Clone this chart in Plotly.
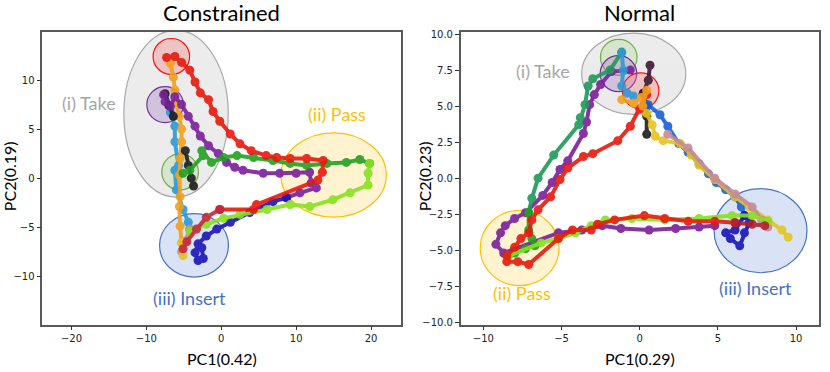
import plotly.graph_objects as go

# ---------------- Constrained (left panel) ----------------
con_red_x = [-7.3, -6.2, -5.3, -4.2, -3.5, -2.8, -1.7, -1.1, -0.2, 1.2, 2.5, 4.0, 6.0, 7.4, 9.2, 11.4, 13.6, 13.5, 12.9, 4.7, 4.3, -0.2]
con_red_y = [12.3, 12.4, 11.8, 11.0, 9.8, 8.7, 8.0, 6.8, 5.8, 4.5, 3.5, 2.8, 2.3, 2.1, 2.0, 2.0, 1.8, 0.6, -0.2, -2.7, -3.2, -3.2]
con_crimson_x = [-0.2, -2.0, -3.3, -4.6, -5.1]
con_crimson_y = [-3.2, -4.0, -5.2, -6.5, -7.2]

con_purple_x = [-7.7, -7.5, -6.8, -6.2, -5.3, -4.4, -3.5, -2.8, -1.7, -0.4, 0.7, 1.8, 2.9, 5.6, 7.8, 10.0, 11.8, 12.0, 12.7, 10.5, 8.7]
con_purple_y = [8.5, 7.8, 7.3, 8.3, 7.5, 6.3, 5.3, 4.3, 3.3, 2.5, 1.6, 1.1, 0.8, 0.5, 0.5, 0.5, 0.6, -0.5, -1.0, -1.5, -2.0]
con_navy_x = [8.7, 6.9, 3.8, 1.2, -0.6, -2.0, -3.1, -3.5, -3.1, -2.4, -2.6]
con_navy_y = [-2.0, -2.4, -3.5, -4.5, -5.2, -5.9, -6.7, -7.6, -8.4, -8.2, -7.1]

con_green_x = [-5.1, -4.2, -2.4, -2.6, -1.3, 0.3, 2.1, 4.3, 6.9, 9.2, 11.4, 14.1, 16.7, 18.5, 19.8]
con_green_y = [0.5, 0.8, 2.3, 2.8, 1.6, 2.1, 2.3, 2.1, 1.8, 1.5, 1.3, 1.5, 1.6, 1.9, 1.5]
con_lime_x = [19.8, 19.6, 19.6, 17.2, 14.9, 11.8, 9.2, 6.1, 2.5, 0.3, -2.0, -4.2]
con_lime_y = [1.5, 0.5, -0.7, -1.5, -2.2, -2.9, -2.7, -3.2, -3.7, -4.1, -4.7, -5.4]

con_orange_x = [-6.8, -6.4, -6.2, -6.0, -5.6, -5.3, -5.3, -5.5, -5.6, -5.5, -5.6, -5.5, -5.3]
con_orange_y = [11.7, 10.3, 9.0, 7.7, 6.3, 5.0, 3.7, 2.0, 0.3, -1.9, -2.9, -4.9, -6.6]
con_yellow_x = [-5.3, -5.1]
con_yellow_y = [-6.6, -7.9]

con_sky_x = [-6.8, -6.2, -6.2, -5.7, -6.2, -6.0, -5.1, -4.4, -4.2]
con_sky_y = [6.7, 5.3, 3.7, 1.3, 0.8, -1.2, -3.2, -4.5, -5.2]
con_mauve_x = [-4.2, -4.8, -5.3]
con_mauve_y = [-5.2, -6.4, -7.5]

con_black_x = [-7.5, -7.0, -6.4]
con_black_y = [8.6, 7.4, 6.3]
con_black2_x = [-4.8, -4.4, -4.0, -3.7]
con_black2_y = [2.8, 1.3, 0.0, -0.8]

# ---------------- Normal (right panel) ----------------
nor_red_x = [0.45, 0.0, -0.6, -1.4, -3.0, -3.6, -4.6, -5.1, -5.7, -6.5, -6.9, -7.1, -7.6, -8.0, -8.5, -8.5, -7.8, -7.1,
             -5.2, -4.3, -3.1, -2.7, -1.6, 0.3, 1.6, 3.1, 4.8, 6.1]
nor_red_y = [5.8, 4.8, 3.6, 2.6, 1.7, 1.5, 0.7, -0.1, -1.3, -2.2, -2.9, -3.8, -4.2, -4.8, -5.4, -5.8, -5.8, -6.0,
             -4.2, -3.6, -3.6, -3.2, -2.9, -2.6, -2.8, -3.0, -3.0, -3.1]
nor_maroon_x = [6.1, 7.2, 8.0]
nor_maroon_y = [-3.1, -3.2, -3.3]

nor_teal_x = [-1.15, -1.9, -3.0, -3.3, -3.5, -3.8, -3.9, -5.5, -6.5, -6.9, -7.1]
nor_teal_y = [8.75, 7.5, 6.9, 6.4, 5.1, 4.2, 3.7, 1.6, 0.0, -1.4, -2.4]
nor_green_x = [-7.1, -7.1, -6.9, -6.7, -7.3, -8.0, -8.4]
nor_green_y = [-2.4, -3.6, -4.2, -4.7, -4.9, -5.2, -5.4]
nor_lime_x = [-8.4, -6.3, -5.2, -4.1, -3.1, -2.2, -0.5, 1.6, 3.8, 5.9, 7.2, 8.2]
nor_lime_y = [-5.4, -4.5, -4.2, -3.8, -3.3, -2.9, -2.8, -2.9, -2.8, -2.6, -2.6, -3.0]

nor_purple_x = [-0.6, -1.8, -2.5, -2.9, -3.2, -3.4, -3.6, -4.6, -5.1, -5.6, -6.2, -7.3, -8.0, -8.6, -8.9, -9.2, -8.7,
                -5.2, -3.7, -2.4, -1.2, 0.6, 2.3, 3.8, 4.8]
nor_purple_y = [7.5, 7.4, 6.5, 5.8, 5.1, 3.9, 3.1, 1.2, 0.6, -0.3, -1.2, -2.4, -2.8, -3.3, -3.8, -4.6, -5.2,
                -3.8, -3.6, -3.3, -3.5, -3.6, -3.5, -3.4, -3.3]

nor_blue_x = [0.55, 1.3, 1.8, 2.5, 3.1, 3.8, 4.4, 4.9, 5.5, 6.1, 6.5, 6.7]
nor_blue_y = [5.1, 4.4, 3.6, 2.4, 1.8, 1.0, 0.3, -0.3, -0.8, -1.3, -2.0, -2.6]
nor_navy_x = [6.7, 6.1, 5.5, 5.8, 6.4, 6.7, 7.0]
nor_navy_y = [-2.6, -3.6, -3.8, -4.2, -4.7, -3.8, -3.1]

nor_orange_x = [-1.15, -0.4, 0.1, 0.45, 0.2]
nor_orange_y = [5.45, 5.2, 5.6, 6.1, 5.0]
nor_yellow_x = [0.45, 0.8, 1.0, 1.5, 2.6, 3.3, 3.8, 4.8, 6.1, 7.0, 8.2, 9.1, 9.5]
nor_yellow_y = [4.5, 3.7, 2.9, 2.6, 2.4, 1.6, 0.9, -0.1, -1.3, -2.0, -2.9, -3.6, -4.1]
nor_mauve_x = [1.8, 3.1, 4.8, 6.1, 7.2, 7.8, 8.2]
nor_mauve_y = [3.05, 2.1, 0.0, -1.1, -2.0, -2.9, -3.4]

nor_sky_x = [-1.15, -1.05, -1.15, -0.8, -0.4]
nor_sky_y = [8.7, 7.5, 6.4, 5.9, 5.7]
nor_plum_x = [0.66, 0.55, 0.23]
nor_plum_y = [7.84, 6.8, 5.9]
nor_black_x = [0.23, 0.45, 0.45, 0.45]
nor_black_y = [5.9, 5.0, 4.3, 3.05]

C = {
    "red": "#e8180c", "crimson": "#c4283c", "purple": "#7a1f9c", "navy": "#1a14b8",
    "green": "#22a022", "lime": "#86e21e", "orange": "#f2a01c", "yellow": "#e6c420",
    "sky": "#2a9ad8", "mauve": "#c48a9c", "black": "#1c1c1c", "teal": "#1e9a5a",
    "blue": "#1a62d8", "maroon": "#b0202e", "plum": "#3e1a36",
}

left = [
    (con_sky_x, con_sky_y, "sky"), (con_mauve_x, con_mauve_y, "mauve"),
    (con_orange_x, con_orange_y, "orange"), (con_yellow_x, con_yellow_y, "yellow"),
    (con_black_x, con_black_y, "black"), (con_black2_x, con_black2_y, "black"),
    (con_purple_x, con_purple_y, "purple"), (con_navy_x, con_navy_y, "navy"),
    (con_green_x, con_green_y, "green"), (con_lime_x, con_lime_y, "lime"),
    (con_red_x, con_red_y, "red"), (con_crimson_x, con_crimson_y, "crimson"),
]
right = [
    (nor_black_x, nor_black_y, "black"), (nor_plum_x, nor_plum_y, "plum"),
    (nor_blue_x, nor_blue_y, "blue"), (nor_navy_x, nor_navy_y, "navy"),
    (nor_yellow_x, nor_yellow_y, "yellow"), (nor_mauve_x, nor_mauve_y, "mauve"),
    (nor_purple_x, nor_purple_y, "purple"),
    (nor_teal_x, nor_teal_y, "teal"), (nor_green_x, nor_green_y, "green"), (nor_lime_x, nor_lime_y, "lime"),
    (nor_sky_x, nor_sky_y, "sky"),
    (nor_red_x, nor_red_y, "red"), (nor_maroon_x, nor_maroon_y, "maroon"),
    (nor_orange_x, nor_orange_y, "orange"),
]

fig = go.Figure()
for traces, xa, ya in [(left, "x", "y"), (right, "x2", "y2")]:
    for xs, ys, c in traces:
        fig.add_trace(go.Scatter(
            x=xs, y=ys, mode="lines+markers", xaxis=xa, yaxis=ya,
            line=dict(color=C[c], width=4), marker=dict(color=C[c], size=9),
            opacity=0.9, showlegend=False, hoverinfo="skip"))


def ellipse(xref, yref, cx, cy, rx, ry, fill, line):
    return dict(type="circle", xref=xref, yref=yref, x0=cx - rx, x1=cx + rx, y0=cy - ry, y1=cy + ry,
                fillcolor=fill, line=dict(color=line, width=1.2), layer="below")


gray_f, gray_l = "rgba(200,200,200,0.35)", "#a8a8a8"
pass_f, pass_l = "rgba(255,220,120,0.35)", "#ffbf00"
ins_f, ins_l = "rgba(160,185,230,0.4)", "#4472c4"
red_f, red_l = "rgba(240,120,120,0.35)", "#ff1010"
pur_f, pur_l = "rgba(160,120,190,0.35)", "#7030a0"
grn_f, grn_l = "rgba(190,220,170,0.45)", "#70ad47"

shapes = [
    ellipse("x", "y", -6.04, 6.57, 6.97, 8.5, gray_f, gray_l),
    ellipse("x", "y", 15.0, 0.32, 7.04, 4.3, pass_f, pass_l),
    ellipse("x", "y", -3.64, -6.85, 4.6, 3.24, ins_f, ins_l),
    ellipse("x", "y", -6.67, 12.4, 2.44, 1.84, red_f, red_l),
    ellipse("x", "y", -7.5, 7.5, 2.44, 1.84, pur_f, pur_l),
    ellipse("x", "y", -5.5, 0.63, 2.44, 1.84, grn_f, grn_l),
    ellipse("x2", "y2", -0.38, 7.25, 3.33, 2.82, gray_f, gray_l),
    ellipse("x2", "y2", -7.68, -4.85, 2.52, 2.62, pass_f, pass_l),
    ellipse("x2", "y2", 7.73, -3.65, 2.97, 2.92, ins_f, ins_l),
    ellipse("x2", "y2", -1.34, 8.39, 1.17, 1.25, grn_f, grn_l),
    ellipse("x2", "y2", -1.36, 7.25, 1.17, 1.25, pur_f, pur_l),
    ellipse("x2", "y2", 0.06, 6.06, 1.17, 1.25, red_f, red_l),
]

lab_font = "Lato, Liberation Sans, sans-serif"
annotations = [
    dict(x=-17.6, y=7.65, xref="x", yref="y", text="(i) Take", font=dict(color="#a6a6a6", size=18)),
    dict(x=15.4, y=6.5, xref="x", yref="y", text="(ii) Pass", font=dict(color="#ffc000", size=18)),
    dict(x=-4.3, y=-12.2, xref="x", yref="y", text="(iii) Insert", font=dict(color="#4472c4", size=18)),
    dict(x=-6.2, y=7.43, xref="x2", yref="y2", text="(i) Take", font=dict(color="#a6a6a6", size=18)),
    dict(x=-7.5, y=-8.0, xref="x2", yref="y2", text="(ii) Pass", font=dict(color="#ffc000", size=18)),
    dict(x=7.42, y=-7.65, xref="x2", yref="y2", text="(iii) Insert", font=dict(color="#4472c4", size=18)),
    # titles and axis labels
    dict(x=221.7 / 830, y=1 - 10 / 372, xref="paper", yref="paper", text="Constrained", font=dict(size=22)),
    dict(x=639.8 / 830, y=1 - 10 / 372, xref="paper", yref="paper", text="Normal", font=dict(size=22)),
    dict(x=221.7 / 830, y=1 - 361 / 372, xref="paper", yref="paper", text="PC1(0.42)", font=dict(size=16)),
    dict(x=639.8 / 830, y=1 - 361 / 372, xref="paper", yref="paper", text="PC1(0.29)", font=dict(size=16)),
    dict(x=9 / 830, y=1 - 176 / 372, xref="paper", yref="paper", text="PC2(0.19)", textangle=-90, font=dict(size=16)),
    dict(x=424 / 830, y=1 - 176 / 372, xref="paper", yref="paper", text="PC2(0.23)", textangle=-90, font=dict(size=16)),
]
for a in annotations:
    a.update(showarrow=False, xanchor="center", yanchor="middle")
    a["font"].setdefault("color", "#000000")
    a["font"]["family"] = lab_font

axis_common = dict(showgrid=False, zeroline=False, showline=True, mirror=True, linecolor="#595959",
                   linewidth=1.5, ticks="outside", ticklen=4, tickcolor="#333333",
                   tickfont=dict(family="DejaVu Sans", size=10, color="#222222"))

fig.update_layout(
    width=830, height=372, margin=dict(l=0, r=0, t=0, b=0),
    paper_bgcolor="white", plot_bgcolor="white",
    xaxis=dict(domain=[42.3 / 830, 401 / 830], range=[-23.9, 24.0], dtick=10, anchor="y", **axis_common),
    yaxis=dict(domain=[45 / 372, 343 / 372], range=[-14.95, 14.95], dtick=5, anchor="x", **axis_common),
    xaxis2=dict(domain=[460.7 / 830, 819 / 830], range=[-11.45, 11.47], dtick=5, anchor="y2", **axis_common),
    yaxis2=dict(domain=[45 / 372, 343 / 372], range=[-10.18, 10.18], dtick=2.5, tickformat=".1f",
                anchor="x2", **axis_common),
    shapes=shapes, annotations=annotations,
)

# the page body has a default margin; drop it so the figure sits at the window origin
fig.write_html("out.html", config={"displayModeBar": False},
               post_script="document.body.style.margin='0px';")
